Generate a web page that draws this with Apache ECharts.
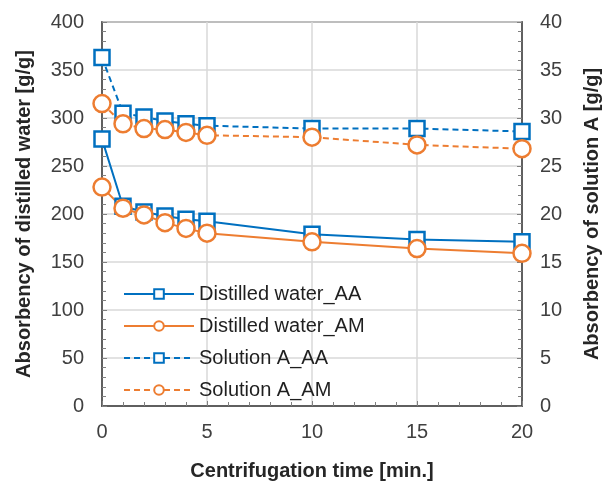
<!DOCTYPE html>
<html><head><meta charset="utf-8">
<script src="https://cdn.jsdelivr.net/npm/echarts@6/dist/echarts.min.js"></script>
<style>html,body{margin:0;padding:0;background:#fff}#c{width:604px;height:482px}</style>
</head><body><div id="c"></div>
<script>
var times = [0, 1, 2, 3, 4, 5, 10, 15, 20];
var distilledAA = [278, 208, 202, 198, 194.5, 192.5, 179, 173.5, 171];
var distilledAM = [228, 206, 199, 191, 185, 180, 171, 164, 159];
var solutionAA = [36.3, 30.5, 30.1, 29.7, 29.4, 29.2, 28.9, 28.9, 28.6];
var solutionAM = [31.5, 29.4, 28.9, 28.8, 28.5, 28.2, 28.0, 27.2, 26.8];
var seriesNames = ['Distilled water_AA', 'Distilled water_AM', 'Solution A_AA', 'Solution A_AM'];

var BLUE = '#0070C0', ORANGE = '#ED7D31';
var FONT = 'Liberation Sans';
function pairs(v){ return times.map(function(t,i){ return [t, v[i]]; }); }
function mk(name, vals, color, sym, dashed, yi){
  return {
    name: name, type: 'line', yAxisIndex: yi, data: pairs(vals),
    symbol: sym, symbolSize: sym === 'rect' ? 15 : 17,
    lineStyle: {color: color, width: 2, type: dashed ? [6, 4] : 'solid'},
    itemStyle: {color: '#fff', borderColor: color, borderWidth: 2.5},
    emphasis: {disabled: true}, animation: false
  };
}
var chart = echarts.init(document.getElementById('c'), null, {renderer: 'canvas'});
var tickLabel = {fontFamily: FONT, fontSize: 20, color: '#404040'};
var nameStyle = {fontFamily: FONT, fontSize: 20, fontWeight: 'bold', color: '#262626'};
chart.setOption({
  backgroundColor: '#fff',
  animation: false,
  grid: {left: 102, right: 82, top: 22, bottom: 76, containLabel: false, outerBoundsMode: 'none',
         show: true, borderColor: '#404040', borderWidth: 1.5, backgroundColor: 'transparent'},
  legend: {
    data: seriesNames, orient: 'vertical', left: 118, top: 279,
    itemWidth: 70, itemHeight: 12, itemGap: 12,
    textStyle: {fontFamily: FONT, fontSize: 20, color: '#1f1f1f'}
  },
  xAxis: {
    type: 'value', min: 0, max: 20, interval: 5,
    name: 'Centrifugation time [min.]', nameLocation: 'middle', nameGap: 55, nameTextStyle: nameStyle,
    axisLine: {lineStyle: {color: '#404040', width: 1.5}},
    axisTick: {inside: true, length: 5, lineStyle: {color: '#808080'}},
    minorTick: {show: true, splitNumber: 5, length: 4, lineStyle: {color: '#808080'}},
    axisLabel: Object.assign({margin: 16}, tickLabel),
    splitLine: {show: true, lineStyle: {color: '#d9d9d9', width: 1.5}}
  },
  yAxis: [{
    type: 'value', min: 0, max: 400, interval: 50, position: 'left',
    name: 'Absorbency of distilled water [g/g]', nameLocation: 'middle', nameGap: 68, nameRotate: 90, nameTextStyle: nameStyle,
    axisLine: {show: true, lineStyle: {color: '#404040', width: 1.5}},
    axisTick: {show: true, inside: true, length: 5, lineStyle: {color: '#808080'}},
    minorTick: {show: true, splitNumber: 5, length: 4, lineStyle: {color: '#808080'}},
    axisLabel: Object.assign({margin: 18}, tickLabel),
    splitLine: {show: true, lineStyle: {color: '#d9d9d9', width: 1.5}}
  }, {
    type: 'value', min: 0, max: 40, interval: 5, position: 'right',
    name: 'Absorbency of solution A [g/g]', nameLocation: 'middle', nameGap: 60, nameRotate: 90, nameTextStyle: nameStyle,
    axisLine: {show: true, lineStyle: {color: '#404040', width: 1.5}},
    axisTick: {show: true, inside: true, length: 5, lineStyle: {color: '#808080'}},
    minorTick: {show: true, splitNumber: 5, length: 4, lineStyle: {color: '#808080'}},
    axisLabel: Object.assign({margin: 18}, tickLabel),
    splitLine: {show: false}
  }],
  series: [
    mk(seriesNames[0], distilledAA, BLUE, 'rect', false, 0),
    mk(seriesNames[1], distilledAM, ORANGE, 'circle', false, 0),
    mk(seriesNames[2], solutionAA, BLUE, 'rect', true, 1),
    mk(seriesNames[3], solutionAM, ORANGE, 'circle', true, 1)
  ]
});
</script></body></html>
